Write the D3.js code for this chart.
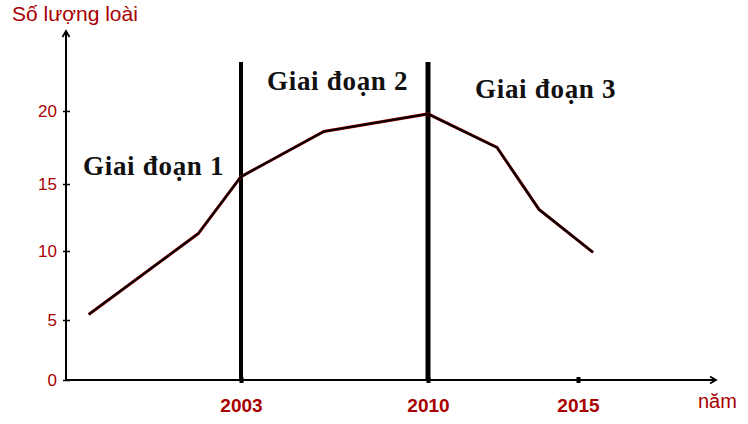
<!DOCTYPE html>
<html>
<head>
<meta charset="utf-8">
<script src="https://cdn.jsdelivr.net/npm/d3@7"></script>
<style>
  body { margin: 0; background: #fff; }
</style>
</head>
<body>
<div id="chart"></div>
<script>
// chart data
var years = [1997.3, 2001.4, 2003, 2006.1, 2010, 2012.3, 2013.7, 2015.5];
var species = [5.4, 11.3, 15.5, 18.6, 19.8, 17.5, 13.1, 9.9];
var yTicks = [0, 5, 10, 15, 20];
var xTicks = [2003, 2010, 2015];
var phaseBreaks = [2003, 2010];
var phaseLabels = ["Giai đoạn 1", "Giai đoạn 2", "Giai đoạn 3"];

var width = 748;
var height = 424;
var red = "#a80000";

var svg = d3
  .select("#chart")
  .append("svg")
  .attr("width", width)
  .attr("height", height);

// the original axes are hand drawn and not evenly spaced, so piecewise scales
var x = d3.scaleLinear().domain(xTicks).range([241, 428, 578]);
var y = d3.scaleLinear().domain(yTicks).range([380, 320, 251, 184, 111]);

var x0 = 66, xEnd = 716, yTop = 31;

// y axis
var gy = svg.append("g")
  .attr("transform", "translate(" + x0 + ",0)")
  .call(d3.axisLeft(y).tickValues(yTicks).tickSizeInner(3).tickSizeOuter(0).tickPadding(6));
gy.select(".domain").remove();
gy.selectAll(".tick line").attr("x1", 4).attr("stroke-width", 1.5);
gy.selectAll(".tick text")
  .attr("fill", red)
  .style("font", "17px 'Liberation Sans', sans-serif");

// x axis
var gx = svg.append("g")
  .attr("transform", "translate(0," + y(0) + ")")
  .call(d3.axisBottom(x).tickValues(xTicks).tickFormat(d3.format("d")).tickSizeInner(3).tickSizeOuter(0).tickPadding(16));
gx.select(".domain").remove();
gx.selectAll(".tick line").attr("y1", -3).attr("stroke-width", 4);
gx.selectAll(".tick text")
  .attr("fill", red)
  .style("font", "bold 19px 'Liberation Sans', sans-serif");

// axis lines with open arrow heads
svg.append("line")
  .attr("x1", x0).attr("y1", y(0)).attr("x2", x0).attr("y2", yTop + 1)
  .attr("stroke", "#000").attr("stroke-width", 2);
svg.append("path")
  .attr("d", "M" + (x0 - 3.5) + "," + (yTop + 6) + "L" + x0 + "," + yTop + "L" + (x0 + 3.5) + "," + (yTop + 6))
  .attr("fill", "none").attr("stroke", "#000").attr("stroke-width", 1.8);
svg.append("line")
  .attr("x1", x0).attr("y1", y(0)).attr("x2", xEnd - 1).attr("y2", y(0))
  .attr("stroke", "#000").attr("stroke-width", 2);
svg.append("path")
  .attr("d", "M" + (xEnd - 6) + "," + (y(0) - 3.5) + "L" + xEnd + "," + y(0) + "L" + (xEnd - 6) + "," + (y(0) + 3.5))
  .attr("fill", "none").attr("stroke", "#000").attr("stroke-width", 1.8);

// phase separators
svg.selectAll(".phase-line")
  .data(phaseBreaks)
  .enter()
  .append("line")
  .attr("class", "phase-line")
  .attr("x1", function(d) { return x(d); })
  .attr("x2", function(d) { return x(d); })
  .attr("y1", 62)
  .attr("y2", y(0))
  .attr("stroke", "#000")
  .attr("stroke-width", function(d, i) { return i == 0 ? 4 : 5; });

// species line: thin red underlay, black on top
var points = years.map(function(d, i) { return [d, species[i]]; });
var line = d3.line()
  .x(function(d) { return x(d[0]); })
  .y(function(d) { return y(d[1]); });

svg.append("path")
  .datum(points)
  .attr("d", line)
  .attr("fill", "none")
  .attr("stroke", "#b00000")
  .attr("stroke-width", 3);
svg.append("path")
  .datum(points)
  .attr("d", line)
  .attr("fill", "none")
  .attr("stroke", "#000")
  .attr("stroke-width", 2.2);

// phase labels
var labelPos = [[83, 175], [267, 90], [475, 98]];
svg.selectAll(".phase-label")
  .data(phaseLabels)
  .enter()
  .append("text")
  .attr("class", "phase-label")
  .attr("x", function(d, i) { return labelPos[i][0]; })
  .attr("y", function(d, i) { return labelPos[i][1]; })
  .style("font", "bold 27px 'Liberation Serif', serif")
  .style("letter-spacing", "0.7px")
  .attr("fill", "#111")
  .text(function(d) { return d; });

// axis titles
svg.append("text")
  .attr("x", 12)
  .attr("y", 21)
  .attr("fill", red)
  .style("font", "21px 'Liberation Sans', sans-serif")
  .text("Số lượng loài");

svg.append("text")
  .attr("x", 698)
  .attr("y", 408)
  .attr("fill", red)
  .style("font", "20px 'Liberation Sans', sans-serif")
  .text("năm");
</script>
</body>
</html>
